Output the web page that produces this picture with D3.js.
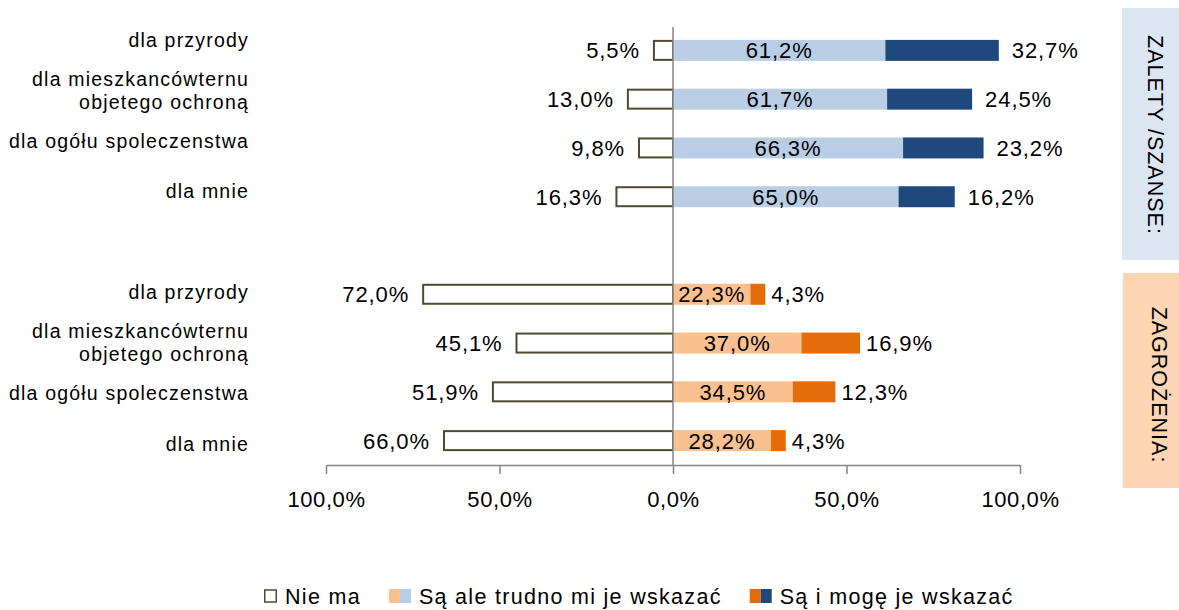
<!DOCTYPE html>
<html><head><meta charset="utf-8">
<script src="https://cdn.jsdelivr.net/npm/d3@7"></script>
<style>body{margin:0;background:#fff}svg{display:block}text{font-family:"Liberation Sans",Arial,sans-serif;fill:#000}</style>
</head><body><svg id="c" width="1179" height="610"></svg>
<script>
const categories = ["dla przyrody", "dla mieszkancówternu|objetego ochroną", "dla ogółu spoleczenstwa", "dla mnie"];
const groups = ["ZALETY /SZANSE:", "ZAGROŻENIA:"];
const zaletyNieMa = [5.5, 13.0, 9.8, 16.3];
const zaletyTrudno = [61.2, 61.7, 66.3, 65.0];
const zaletyMoge = [32.7, 24.5, 23.2, 16.2];
const zagrozeniaNieMa = [72.0, 45.1, 51.9, 66.0];
const zagrozeniaTrudno = [22.3, 37.0, 34.5, 28.2];
const zagrozeniaMoge = [4.3, 16.9, 12.3, 4.3];
const tickValues = [-100, -50, 0, 50, 100];
const legendLabels = ["Nie ma", "Są ale trudno mi je wskazać", "Są i mogę je wskazać"];

const fmt = v => d3.format(".1f")(Math.abs(v)).replace(".", ",") + "%";
const colors = {
  nie: "#4f4a30", lightBlue: "#b9cde5", darkBlue: "#1f497d",
  lightOrange: "#fac090", darkOrange: "#e46c0a"
};

// rows: 4 zalety, gap slot, 4 zagrozenia
const rows = [];
categories.forEach((c, i) => rows.push({slot: i, cat: c, nie: zaletyNieMa[i], trudno: zaletyTrudno[i], moge: zaletyMoge[i], light: colors.lightBlue, dark: colors.darkBlue, g: 0}));
categories.forEach((c, i) => rows.push({slot: i + 5, cat: c, nie: zagrozeniaNieMa[i], trudno: zagrozeniaTrudno[i], moge: zagrozeniaMoge[i], light: colors.lightOrange, dark: colors.darkOrange, g: 1}));

const svg = d3.select("#c");
const x = d3.scaleLinear().domain([-100, 100]).range([326, 1020]);
const y = d3.scaleBand().domain(d3.range(9)).range([26, 465]).paddingInner(0.57).paddingOuter(0.285);
const yLab = d3.scalePoint().domain(d3.range(9)).range([40, 443.5]);

// bars
const gBars = svg.append("g");
rows.forEach(r => {
  const y0 = y(r.slot), h = y.bandwidth();
  gBars.append("rect").attr("x", x(-r.nie)).attr("y", y0 + 1).attr("width", x(0) - x(-r.nie)).attr("height", h - 2)
    .attr("fill", "#fff").attr("stroke", colors.nie).attr("stroke-width", 2);
  gBars.append("rect").attr("x", x(0)).attr("y", y0).attr("width", x(r.trudno) - x(0)).attr("height", h).attr("fill", r.light);
  gBars.append("rect").attr("x", x(r.trudno)).attr("y", y0).attr("width", x(r.trudno + r.moge) - x(r.trudno)).attr("height", h).attr("fill", r.dark);
  const cy = y0 + h / 2;
  const t = (tx, ty, s, anchor) => gBars.append("text").attr("x", tx).attr("y", ty).attr("dy", "0.36em")
    .attr("text-anchor", anchor).attr("font-size", 22).attr("letter-spacing", 0.9).text(s);
  t(x(-r.nie) - 14, cy, fmt(r.nie), "end");
  t((x(0) + x(r.trudno)) / 2, cy, fmt(r.trudno), "middle");
  t(x(r.trudno + r.moge) + (r.g === 0 ? 13 : 6), cy, fmt(r.moge), "start");
  // category label
  const lines = r.cat.split("|");
  const lc = yLab(r.slot);
  lines.forEach((ln, k) => {
    svg.append("text").attr("x", 249).attr("y", lc + (k - (lines.length - 1) / 2) * 23.5).attr("dy", "0.36em")
      .attr("text-anchor", "end").attr("font-size", 19.5).attr("letter-spacing", 1.2).text(ln);
  });
});

// vertical axis at 0
svg.append("line").attr("x1", x(0)).attr("x2", x(0)).attr("y1", 27).attr("y2", 465).attr("stroke", "#868686").attr("stroke-width", 1.5);
// bottom axis
const ax = svg.append("g").attr("transform", "translate(0,465)")
  .call(d3.axisBottom(x).tickValues(tickValues).tickSize(9).tickSizeOuter(0).tickFormat(fmt).tickPadding(17));
ax.select(".domain").attr("stroke", "#868686").attr("stroke-width", 1.5);
ax.selectAll(".tick line").attr("stroke", "#868686").attr("stroke-width", 1.5);
ax.selectAll("text").attr("font-size", 22).attr("letter-spacing", 0.6).attr("font-family", "\"Liberation Sans\",Arial,sans-serif").attr("fill", "#000");

// side boxes
const boxes = [
  {label: groups[0], y0: 8, y1: 260, x0: 1122, fill: "#dce6f2", tx: 1156, ty: 135},
  {label: groups[1], y0: 273, y1: 488, x0: 1123, fill: "#fcd5b5", tx: 1160, ty: 385}
];
boxes.forEach(b => {
  svg.append("rect").attr("x", b.x0).attr("y", b.y0).attr("width", 1179 - b.x0).attr("height", b.y1 - b.y0).attr("fill", b.fill);
  svg.append("text").attr("transform", `translate(${b.tx},${b.ty}) rotate(90)`).attr("text-anchor", "middle").attr("dy", "0.36em")
    .attr("font-size", 21.5).attr("letter-spacing", 1).text(b.label);
});

// legend
const lg = svg.append("g");
const ly = 596;
let lx = 264;
const legendSwatches = [[null], [colors.lightOrange, colors.lightBlue], [colors.darkOrange, colors.darkBlue]];
legendLabels.forEach((lab, i) => {
  const sw = legendSwatches[i];
  if (sw[0] === null) {
    lg.append("rect").attr("x", lx + 0.75).attr("y", ly - 6).attr("width", 11.5).attr("height", 12).attr("fill", "#fff").attr("stroke", colors.nie).attr("stroke-width", 1.5);
    lx += 13;
  } else {
    sw.forEach(c => { lg.append("rect").attr("x", lx).attr("y", ly - 7).attr("width", 11).attr("height", 14).attr("fill", c); lx += 11; });
  }
  lx += 8;
  const t = lg.append("text").attr("x", lx).attr("y", ly).attr("dy", "0.36em").attr("font-size", 21.5).attr("letter-spacing", 1.3).text(lab);
  lx += t.node().getComputedTextLength() + 28;
});
</script></body></html>
